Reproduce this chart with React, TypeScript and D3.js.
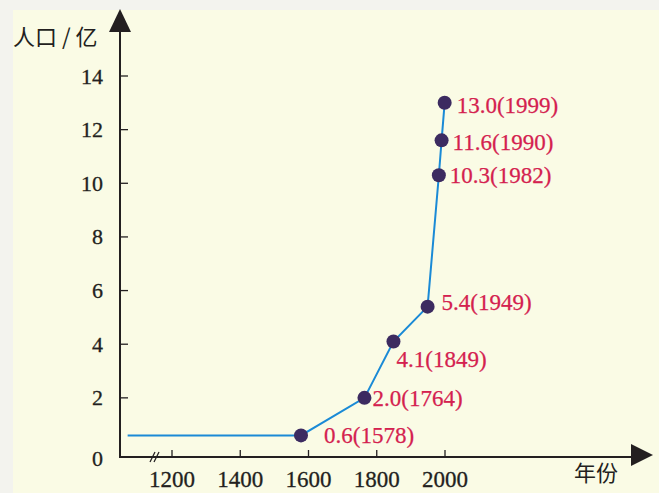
import React from "react";
import * as d3 from "d3";

// ---- data ----
const years = [1578, 1764, 1849, 1949, 1982, 1990, 1999];
const population = [0.6, 2.0, 4.1, 5.4, 10.3, 11.6, 13.0];
// the flat early segment of the curve (before 1578)
const earlyYear = 1070;
const earlyValue = 0.6;
const xTickValues = [1200, 1400, 1600, 1800, 2000];
const yTickValues = [0, 2, 4, 6, 8, 10, 12, 14];
const yAxisTitle = "人口 / 亿";
const xAxisTitle = "年份";

// ---- layout (label offsets relative to each point) ----
const labelDx = [23, 8, 3, 14, 11, 11, 12];
const labelDy = [8, 8, 25, 3, 8, 10, 10];

const W = 659;
const H = 493;
const axisX = 120;
const axisY = 457;

export default function App() {
  const x = d3.scaleLinear().domain([1200, 2000]).range([172, 445]);
  const y = d3.scaleLinear().domain([0, 14]).range([451.5, 76]);

  const lineData: [number, number][] = [
    [earlyYear, earlyValue],
    ...years.map((yr, i) => [yr, population[i]] as [number, number]),
  ];
  const line = d3
    .line<[number, number]>()
    .x((d) => x(d[0]))
    .y((d) => y(d[1]))
    .curve(d3.curveLinear);

  const serif = "'Liberation Serif', 'Times New Roman', serif";
  const cjk = "'Noto Sans CJK SC', sans-serif";
  const ink = "#231f20";
  const red = "#d4214f";

  return (
    <svg
      width={W}
      height={H}
      style={{ position: "absolute", left: 0, top: 0 }}
      xmlns="http://www.w3.org/2000/svg"
    >
      <rect x={0} y={0} width={W} height={H} fill="#f3f3ee" />
      <rect x={13} y={10} width={W - 13} height={H - 10} fill="#fafbe5" />

      {/* y axis */}
      <line x1={axisX} y1={axisY + 1} x2={axisX} y2={30} stroke={ink} strokeWidth={2} />
      <path d={`M${axisX},9 L${axisX - 11},32 L${axisX + 11},32 Z`} fill={ink} />
      {/* x axis */}
      <line x1={axisX - 1} y1={axisY} x2={633} y2={axisY} stroke={ink} strokeWidth={2} />
      <path d={`M653,${axisY - 2} L631,${axisY - 13} L631,${axisY + 9} Z`} fill={ink} />
      {/* axis break */}
      <line x1={150} y1={axisY + 5} x2={155} y2={axisY - 5} stroke={ink} strokeWidth={1.2} />
      <line x1={154} y1={axisY + 5} x2={159} y2={axisY - 5} stroke={ink} strokeWidth={1.2} />

      {/* y ticks */}
      {yTickValues.map((v) => {
        const ty = v === 0 ? axisY + 1 : y(v);
        return (
          <g key={"yt" + v}>
            {v !== 0 && (
              <line x1={axisX} y1={ty} x2={axisX + 8} y2={ty} stroke={ink} strokeWidth={1.3} />
            )}
            <text
              x={103}
              y={ty}
              textAnchor="end"
              dominantBaseline="central"
              fontFamily={serif}
              fontSize={22}
              fill={ink}
              stroke={ink}
              strokeWidth={0.3}
            >
              {v}
            </text>
          </g>
        );
      })}

      {/* x ticks */}
      {xTickValues.map((v) => (
        <g key={"xt" + v}>
          <line x1={x(v)} y1={axisY} x2={x(v)} y2={axisY - 7} stroke={ink} strokeWidth={1.3} />
          <text
            x={x(v)}
            y={487}
            textAnchor="middle"
            fontFamily={serif}
            fontSize={23}
            fill={ink}
            stroke={ink}
            strokeWidth={0.3}
          >
            {v}
          </text>
        </g>
      ))}

      {/* axis titles */}
      <text x={13} y={45} fontFamily={cjk} fontSize={22} fill={ink}>
        {yAxisTitle}
      </text>
      <text x={574} y={481} fontFamily={cjk} fontSize={22} fill={ink}>
        {xAxisTitle}
      </text>

      {/* curve */}
      <path d={line(lineData) || ""} fill="none" stroke="#1a8ad6" strokeWidth={2} />

      {/* points */}
      {years.map((yr, i) => (
        <circle key={"p" + yr} cx={x(yr)} cy={y(population[i])} r={7} fill="#3c2b60" />
      ))}

      {/* labels */}
      {years.map((yr, i) => (
        <text
          key={"l" + yr}
          x={x(yr) + labelDx[i]}
          y={y(population[i]) + labelDy[i]}
          fontFamily={serif}
          fontSize={23}
          fill={red}
          stroke={red}
          strokeWidth={0.25}
        >
          {population[i].toFixed(1)}({yr})
        </text>
      ))}
    </svg>
  );
}
